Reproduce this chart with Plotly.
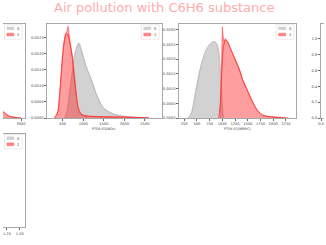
import plotly.graph_objects as go

W, H = 326, 245

# ---------------- data ----------------
# Panel B : PT08.S3(NOx)
B_hist0_x = [560, 620, 680, 720, 760, 800, 840, 880, 920, 960, 1000, 1050, 1100, 1150, 1200, 1250, 1300, 1350, 1400, 1450, 1500, 1550, 1600, 1700, 1800, 1900, 2000, 2200, 2400, 2600]
B_hist0_y = [0, 0.0003, 0.0009, 0.0013, 0.0017, 0.0020, 0.0022, 0.00235, 0.0023, 0.0021, 0.0019, 0.0017, 0.0015, 0.00135, 0.0012, 0.0010, 0.0008, 0.00065, 0.0005, 0.00038, 0.0003, 0.00026, 0.00022, 0.00014, 0.0001, 0.00007, 0.00005, 0.00002, 0.00001, 0]
B_kde0_x = [540, 600, 660, 720, 780, 840, 890, 950, 1020, 1100, 1200, 1300, 1400, 1500, 1600, 1800, 2000, 2300, 2600]
B_kde0_y = [0, 0.0002, 0.0007, 0.0013, 0.0019, 0.0022, 0.0023, 0.0021, 0.0018, 0.0015, 0.0012, 0.0008, 0.0005, 0.0003, 0.0002, 0.0001, 0.00005, 0.00002, 0]
B_hist1_x = [300, 350, 400, 440, 480, 520, 560, 600, 630, 660, 700, 740, 780, 820, 860, 900, 950, 1000, 1100, 1200, 1400, 1600, 1800, 2000, 2200, 2400, 2600]
B_hist1_y = [0, 0.00005, 0.0003, 0.0009, 0.0017, 0.0023, 0.0026, 0.0027, 0.00285, 0.0025, 0.0022, 0.0019, 0.0014, 0.0008, 0.0004, 0.0002, 0.00012, 0.00008, 0.00006, 0.00005, 0.00004, 0.00004, 0.00003, 0.00003, 0.00002, 0.00002, 0]
B_kde1_x = [300, 380, 430, 480, 530, 580, 620, 680, 730, 780, 830, 880, 950, 1100, 1500, 2000, 2600]
B_kde1_y = [0, 0.0002, 0.0008, 0.0017, 0.0023, 0.0026, 0.0026, 0.0023, 0.0019, 0.0013, 0.0007, 0.0003, 0.00012, 0.00006, 0.00004, 0.00003, 0]

# Panel C : PT08.S2(NMHC)
C_hist0_x = [350, 400, 450, 500, 550, 600, 640, 680, 720, 760, 800, 840, 880, 920, 950, 980, 1000, 1020]
C_hist0_y = [0, 0.0002, 0.0007, 0.0012, 0.0016, 0.0019, 0.0021, 0.00225, 0.0024, 0.0025, 0.00255, 0.0026, 0.00255, 0.0023, 0.0018, 0.0009, 0.0003, 0]
C_kde0_x = [330, 400, 450, 500, 550, 600, 650, 700, 750, 800, 850, 900, 940, 970, 990, 1010, 1040]
C_kde0_y = [0, 0.0002, 0.0006, 0.0011, 0.0015, 0.0019, 0.0022, 0.0024, 0.0025, 0.00258, 0.0026, 0.0025, 0.0021, 0.0013, 0.0006, 0.0001, 0]
C_hist1_x = [960, 980, 1000, 1010, 1030, 1060, 1100, 1150, 1200, 1250, 1300, 1350, 1400, 1450, 1500, 1550, 1600, 1650, 1700, 1750, 1800, 1900, 2000, 2100, 2200, 2250]
C_hist1_y = [0, 0.0012, 0.0031, 0.0029, 0.0026, 0.0027, 0.0026, 0.0024, 0.0022, 0.0020, 0.0018, 0.0016, 0.0013, 0.0011, 0.0009, 0.0007, 0.0005, 0.00035, 0.00022, 0.00012, 0.00008, 0.00005, 0.00004, 0.00003, 0.00002, 0]
C_kde1_x = [930, 960, 990, 1020, 1060, 1100, 1150, 1200, 1300, 1400, 1500, 1600, 1700, 1800, 1900, 2000, 2200, 2300]
C_kde1_y = [0, 0.0005, 0.0016, 0.0024, 0.00265, 0.0026, 0.0024, 0.0022, 0.0018, 0.0013, 0.0009, 0.00052, 0.00024, 0.0001, 0.00005, 0.00003, 0.00001, 0]

# Panel A (cut off, only right tail visible)
A_tail1_x = [2500, 2550, 2600, 2650, 2700, 2800, 2900, 3000]
A_tail1_y = [0.00022, 0.0002, 0.00015, 0.0001, 0.00006, 0.00003, 0.00001, 0]

B_xticks = [500, 1000, 1500, 2000, 2500]
B_yticks = [0, 0.0005, 0.0010, 0.0015, 0.0020, 0.0025]
C_xticks = [250, 500, 750, 1000, 1250, 1500, 1750, 2000, 2250]
C_yticks = [0, 0.0005, 0.0010, 0.0015, 0.0020, 0.0025, 0.0030]
D_yticks = [0, 0.2, 0.4, 0.6, 0.8, 1.0]
E_xticks = [1.25, 1.50]
classes = ["0", "1"]

TITLE = "Air pollution with C6H6 substance"
B_label = "PT08.S3(NOx)"
C_label = "PT08.S2(NMHC)"

# ---------------- styling ----------------
FONT = "DejaVu Sans"
GRAY_FILL = "rgba(165,165,165,0.5)"
GRAY_LINE = "rgb(185,185,185)"
RED_FILL = "rgba(255,40,40,0.45)"
RED_LINE = "rgb(255,50,50)"
SPINE = "#a8a8a8"
TICKF = dict(family=FONT, size=3.6, color="#444")


def X(px):
    return px / W


def Y(py):
    return 1 - py / H


fig = go.Figure()


def add_pair(xa, ya, hx, hy, kx, ky, fill, line):
    fig.add_trace(go.Scatter(x=hx, y=hy, mode="lines", fill="tozeroy", fillcolor=fill,
                             line=dict(color=line, width=0.5), xaxis=xa, yaxis=ya,
                             showlegend=False, hoverinfo="skip"))
    if kx is not None:
        fig.add_trace(go.Scatter(x=kx, y=ky, mode="lines", line=dict(color=line, width=0.9, shape="spline", smoothing=0.6),
                                 xaxis=xa, yaxis=ya, showlegend=False, hoverinfo="skip"))


add_pair("x", "y", B_hist0_x, B_hist0_y, B_kde0_x, B_kde0_y, GRAY_FILL, GRAY_LINE)
add_pair("x", "y", B_hist1_x, B_hist1_y, B_kde1_x, B_kde1_y, RED_FILL, RED_LINE)
add_pair("x2", "y2", C_hist0_x, C_hist0_y, C_kde0_x, C_kde0_y, GRAY_FILL, GRAY_LINE)
add_pair("x2", "y2", C_hist1_x, C_hist1_y, C_kde1_x, C_kde1_y, RED_FILL, RED_LINE)
add_pair("x3", "y3", A_tail1_x, A_tail1_y, A_tail1_x, A_tail1_y, RED_FILL, RED_LINE)
# empty panels still need a trace on their axes to be drawn
fig.add_trace(go.Scatter(x=[], y=[], xaxis="x4", yaxis="y4", showlegend=False))
fig.add_trace(go.Scatter(x=[], y=[], xaxis="x5", yaxis="y5", showlegend=False))

common_ax = dict(showgrid=False, zeroline=False, showline=True, linecolor=SPINE, linewidth=1.2,
                 ticks="outside", ticklen=2, tickwidth=0.6, tickcolor="#666", tickfont=TICKF)

top, bot = 24, 119
fig.update_layout(
    width=W, height=H, margin=dict(l=0, r=0, t=0, b=0),
    paper_bgcolor="white", plot_bgcolor="white", showlegend=False,
    xaxis=dict(domain=[X(45), X(161)], anchor="y", range=[125, 2905], tickvals=B_xticks,
               mirror=True, **common_ax),
    yaxis=dict(domain=[Y(bot), Y(top)], anchor="x", range=[0, 0.00293], tickvals=B_yticks,
               ticktext=["%.4f" % v for v in B_yticks], mirror=True, **common_ax),
    xaxis2=dict(domain=[X(179), X(298)], anchor="y2", range=[153, 2457], tickvals=C_xticks,
                mirror=True, **common_ax),
    yaxis2=dict(domain=[Y(bot), Y(top)], anchor="x2", range=[0, 0.0032], tickvals=C_yticks,
                ticktext=["%.4f" % v for v in C_yticks], mirror=True, **common_ax),
    xaxis3=dict(domain=[0, X(22)], anchor="y3", range=[2554, 3090], tickvals=[3000],
                mirror=True, **common_ax),
    yaxis3=dict(domain=[Y(bot), Y(top)], anchor="x3", range=[0, 0.0029], side="right",
                showgrid=False, zeroline=False, showline=True, linecolor=SPINE, linewidth=1.2,
                showticklabels=False, ticks=""),
    xaxis4=dict(domain=[X(323), 1], anchor="y4", range=[0, 1], tickvals=[0], ticktext=["0.0"],
                mirror=True, **common_ax),
    yaxis4=dict(domain=[Y(bot), Y(top)], anchor="x4", range=[0, 1.19], tickvals=D_yticks,
                ticktext=["%.1f" % v for v in D_yticks], **common_ax),
    xaxis5=dict(domain=[0, X(22)], anchor="y5", range=[1.173, 1.596], tickvals=E_xticks,
                ticktext=["%.2f" % v for v in E_xticks], mirror=True, **common_ax),
    yaxis5=dict(domain=[Y(229), Y(134.7)], anchor="x5", range=[0, 1], side="right",
                showgrid=False, zeroline=False, showline=True, linecolor=SPINE, linewidth=1.2,
                showticklabels=False, ticks=""),
)

ann = []
ann.append(dict(text=TITLE, x=0.5, y=Y(8), xref="paper", yref="paper", showarrow=False,
                xanchor="center", yanchor="middle", font=dict(family=FONT, size=13, color="#ffabab")))
ann.append(dict(text=B_label, x=X(103), y=Y(130), xref="paper", yref="paper", showarrow=False,
                xanchor="center", yanchor="middle", font=dict(family=FONT, size=3.4, color="#444")))
ann.append(dict(text=C_label, x=X(238.5), y=Y(130), xref="paper", yref="paper", showarrow=False,
                xanchor="center", yanchor="middle", font=dict(family=FONT, size=3.4, color="#444")))
# cut-off tick label of panel A
ann.append(dict(text="2500", x=2500, xref="x3", y=Y(124), yref="paper", showarrow=False,
                xanchor="center", yanchor="middle", font=TICKF))

shapes = []


def legend(R, T):
    shapes.append(dict(type="rect", xref="paper", yref="paper", x0=X(R - 20.5), x1=X(R - 2.5),
                       y0=Y(T + 15.5), y1=Y(T + 1), line=dict(color="#dddddd", width=0.6), fillcolor="white"))
    cols = [("rgb(211,211,211)", GRAY_LINE), ("rgb(255,140,140)", RED_LINE)]
    for i, (fc, lc) in enumerate(cols):
        yc = T + 4.6 + i * 6.2
        shapes.append(dict(type="rect", xref="paper", yref="paper", x0=X(R - 18), x1=X(R - 11),
                           y0=Y(yc + 1.3), y1=Y(yc - 1.3), line=dict(color=lc, width=0.4), fillcolor=fc))
        ann.append(dict(text=classes[i], x=X(R - 6), y=Y(yc), xref="paper", yref="paper", showarrow=False,
                        xanchor="center", yanchor="middle", font=dict(family=FONT, size=3.8, color="#444")))


legend(161, 24)
legend(298, 24)
legend(22, 24)
legend(22, 134.7)

fig.update_layout(annotations=ann, shapes=shapes)
fig.write_html("out.html")
